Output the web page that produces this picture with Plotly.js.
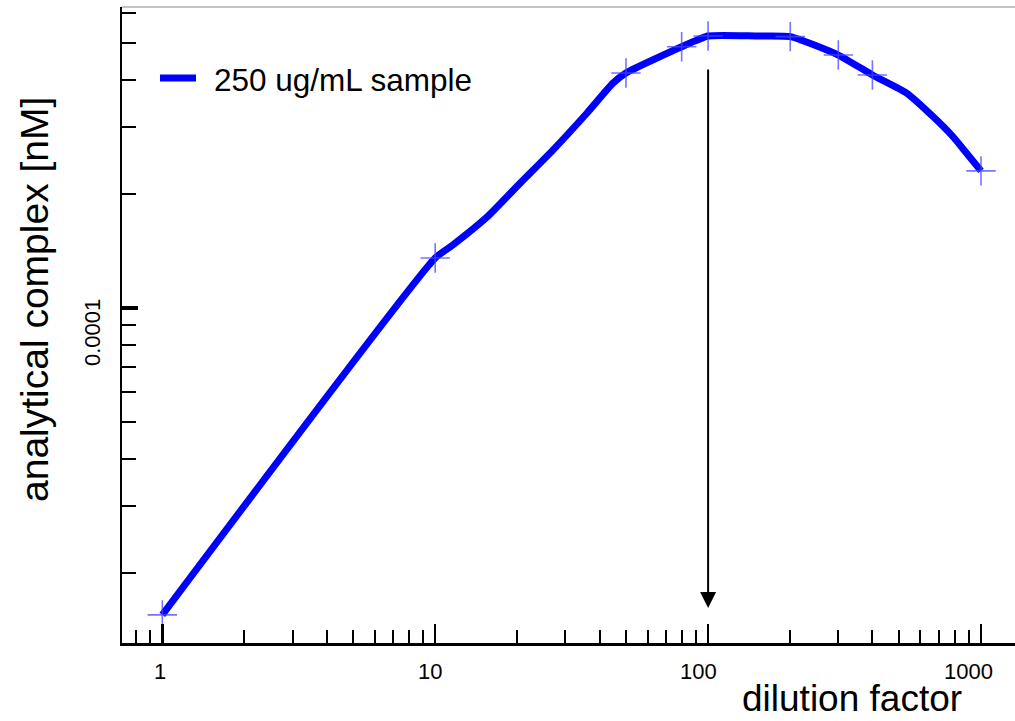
<!DOCTYPE html>
<html>
<head>
<meta charset="utf-8">
<script src="https://cdn.plot.ly/plotly-3.0.1.min.js"></script>
<style>html,body{margin:0;padding:0;background:#fff;}#chart{width:1015px;height:721px;}</style>
</head>
<body>
<div id="chart"></div>
<script>
// Curve (dilution factor vs analytical complex)
var curveX = [1, 10, 11.6, 15.5, 20.5, 27, 36, 44.8, 50, 80, 100, 150, 200, 300, 400, 534, 667, 790, 886, 1000];
var curveY = [1.55e-5, 1.355e-4, 1.466e-4, 1.739e-4, 2.137e-4, 2.61e-4, 3.27e-4, 3.92e-4, 4.17e-4, 4.89e-4, 5.22e-4, 5.22e-4, 5.2e-4, 4.65e-4, 4.12e-4, 3.69e-4, 3.20e-4, 2.83e-4, 2.56e-4, 2.30e-4];
// Marked measurement points
var markX = [1, 10, 50, 80, 100, 200, 300, 400, 1000];
var markY = [1.55e-5, 1.355e-4, 4.17e-4, 4.89e-4, 5.22e-4, 5.2e-4, 4.65e-4, 4.12e-4, 2.30e-4];
// Ticks
var xMajorTicks = [1, 10, 100, 1000];
var xMajorLabels = ['1', '10', '100', '1000'];
var xMinorTicks = [0.8, 0.9, 2, 3, 4, 5, 6, 7, 8, 9, 20, 30, 40, 50, 60, 70, 80, 90, 200, 300, 400, 500, 600, 700, 800, 900];
var yMajorTicks = [1e-4];
var yMajorLabel = '0.0001';
var yMinorTicks = [2e-5, 3e-5, 4e-5, 5e-5, 6e-5, 7e-5, 8e-5, 9e-5, 2e-4, 3e-4, 4e-4, 5e-4, 6e-4];
var seriesName = '250 ug/mL sample';
var arrowX = 100, arrowFrom = 4.3e-4, arrowTo = 1.615e-5;

var FONT = '"Liberation Sans", Arial, sans-serif';
var BLUE = '#0000ff';

var traces = [
  {x: curveX, y: curveY, type: 'scatter', mode: 'lines', name: seriesName,
   line: {color: BLUE, width: 7, shape: 'spline', smoothing: 0.5}, hoverinfo: 'x+y'},
  {x: markX, y: markY, type: 'scatter', mode: 'markers', showlegend: false,
   marker: {symbol: 'cross-thin-open', size: 21, color: 'rgba(70,70,255,0.75)',
            line: {color: 'rgba(70,70,255,0.75)', width: 1.6}}}
];

var annotations = [
  {xref: 'paper', yref: 'paper', x: (212 - 122) / 893, y: (643 - 80) / 636,
   xanchor: 'left', yanchor: 'middle', text: seriesName, showarrow: false,
   font: {family: FONT, size: 31.5, color: '#000'}},
  {xref: 'paper', yref: 'paper', x: (92 - 122) / 893, y: (643 - 333) / 636,
   xanchor: 'center', yanchor: 'middle', textangle: -90, text: yMajorLabel, showarrow: false,
   font: {family: FONT, size: 22, color: '#000'}},
  {xref: 'paper', yref: 'paper', x: (35 - 122) / 893, y: (643 - 300) / 636,
   xanchor: 'center', yanchor: 'middle', textangle: -90, text: 'analytical complex [nM]', showarrow: false,
   font: {family: FONT, size: 39, color: '#000'}},
  {xref: 'paper', yref: 'paper', x: (852 - 122) / 893, y: (643 - 721) / 636,
   xanchor: 'center', yanchor: 'bottom', text: 'dilution factor', showarrow: false,
   font: {family: FONT, size: 37, color: '#000'}},
  {xref: 'x', yref: 'y', x: Math.log10(arrowX), y: Math.log10(arrowTo),
   axref: 'x', ayref: 'y', ax: Math.log10(arrowX), ay: Math.log10(arrowFrom),
   text: '', showarrow: true, arrowhead: 2, arrowsize: 1.6, arrowwidth: 2, arrowcolor: '#000'}
];
// x tick labels (slightly left of their ticks, as in the original)
var labelShift = [-2, -5, -10, -13];
xMajorTicks.forEach(function (v, i) {
  annotations.push({xref: 'x', yref: 'paper', x: Math.log10(v), y: (643 - 671) / 636,
    xanchor: 'center', yanchor: 'middle', xshift: labelShift[i], text: xMajorLabels[i], showarrow: false,
    font: {family: FONT, size: 22, color: '#000'}});
});

var layout = {
  width: 1015, height: 721,
  margin: {l: 122, r: 0, t: 7, b: 78},
  paper_bgcolor: '#fff', plot_bgcolor: '#fff',
  showlegend: false,
  font: {family: FONT, color: '#000'},
  xaxis: {
    type: 'log', range: [-0.1477, 3.1246],
    showgrid: false, zeroline: false,
    showline: true, linecolor: '#000', linewidth: 2.5,
    tickmode: 'array', tickvals: xMajorTicks, ticktext: xMajorLabels,
    showticklabels: false,
    ticks: 'inside', ticklen: 19, tickwidth: 2.5, tickcolor: '#000',
    minor: {tickmode: 'array', tickvals: xMinorTicks, ticks: 'inside', ticklen: 13, tickwidth: 2, tickcolor: '#000', showgrid: false}
  },
  yaxis: {
    type: 'log', range: [-4.8839, -3.2058],
    showgrid: false, zeroline: false,
    showline: true, linecolor: '#000', linewidth: 2.5,
    tickmode: 'array', tickvals: yMajorTicks, ticktext: [''],
    showticklabels: false,
    ticks: 'inside', ticklen: 16, tickwidth: 4, tickcolor: '#000',
    minor: {tickmode: 'array', tickvals: yMinorTicks, ticks: 'inside', ticklen: 14, tickwidth: 2, tickcolor: '#000', showgrid: false}
  },
  shapes: [
    {type: 'line', xref: 'paper', yref: 'paper', x0: 0, x1: 1, y0: 1, y1: 1,
     line: {color: '#888', width: 1}},
    // legend sample line
    {type: 'line', xref: 'paper', yref: 'paper',
     x0: (160 - 122) / 893, x1: (196 - 122) / 893, y0: (643 - 78) / 636, y1: (643 - 78) / 636,
     line: {color: BLUE, width: 7}}
  ],
  annotations: annotations
};

Plotly.newPlot('chart', traces, layout, {displayModeBar: false, staticPlot: true});
</script>
</body>
</html>
